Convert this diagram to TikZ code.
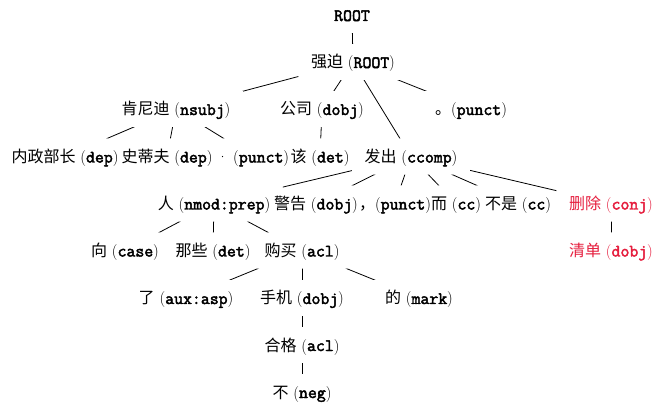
\documentclass[tikz,border=0pt]{standalone}
\usepackage{fontspec}
\newfontfamily\cjkfont{Noto Sans CJK SC}
\newfontfamily\tbfont{Latin Modern Mono}[FakeBold=2.5]
\definecolor{depred}{RGB}{230,30,62}
\newcommand\tb[1]{{\tbfont\fontsize{17.3}{19}\selectfont #1}}
\newcommand\cj[1]{{\cjkfont #1}}
\newcommand\depedge[2]{%
  \begin{scope}[even odd rule]
    \clip (-20,-20) rectangle (700,440)
      ([xshift=-12.5pt,yshift=-10pt]#1.south west) rectangle ([xshift=12.5pt,yshift=10pt]#1.north east)
      ([xshift=-12.5pt,yshift=-10pt]#2.south west) rectangle ([xshift=12.5pt,yshift=10pt]#2.north east);
    \draw[deplink] (#1) -- (#2);
  \end{scope}}
\tikzset{
  tok/.style={inner sep=0pt, text height=14pt, text depth=2pt, font=\fontsize{16}{19}\selectfont},
  redtok/.style={tok, text=depred},
  deplink/.style={line width=0.8pt, black}
}
\begin{document}
\begin{tikzpicture}[x=1pt,y=-1pt]
\useasboundingbox[fill=white] (0,0) rectangle (666,411);
% row 0
\node[tok] (root) at (352,15) {\tb{ROOT}};
% row 1
\node[tok] (qiangpo) at (353,62) {\cj{强迫} (\tb{ROOT})};
% row 2
\node[tok] (kennidi) at (176,109) {\cj{肯尼迪} (\tb{nsubj})};
\node[tok] (gongsi) at (322,109) {\cj{公司} (\tb{dobj})};
\node[tok] (juhao) at (471,109) {\cj{。}(\tb{punct})};
% row 3
\node[tok] (neizheng) at (65,156.5) {\cj{内政部长} (\tb{dep})};
\node[tok] (shidifu) at (167,156.5) {\cj{史蒂夫} (\tb{dep})};
\node[tok] (dot) at (253,156.5) {· (\tb{punct})};
\node[tok] (gai) at (320,156.5) {\cj{该} (\tb{det})};
\node[tok] (fachu) at (411,156.5) {\cj{发出} (\tb{ccomp})};
% row 4
\node[tok] (ren) at (214,203.5) {\cj{人} (\tb{nmod:prep})};
\node[tok] (jinggao) at (316,203.5) {\cj{警告} (\tb{dobj})};
\node[tok] (douhao) at (395,203.5) {\cj{，}(\tb{punct})};
\node[tok] (er) at (456,203.5) {\cj{而} (\tb{cc})};
\node[tok] (bushi) at (518,203.5) {\cj{不是} (\tb{cc})};
\node[redtok] (shanchu) at (611,203.5) {\cj{删除} (\tb{conj})};
% row 5
\node[tok] (xiang) at (125,250.5) {\cj{向} (\tb{case})};
\node[tok] (naxie) at (213,250.5) {\cj{那些} (\tb{det})};
\node[tok] (goumai) at (302,250.5) {\cj{购买} (\tb{acl})};
\node[redtok] (qingdan) at (611,250.5) {\cj{清单} (\tb{dobj})};
% row 6
\node[tok] (le) at (186,298) {\cj{了} (\tb{aux:asp})};
\node[tok] (shouji) at (302,298) {\cj{手机} (\tb{dobj})};
\node[tok] (de) at (419,298) {\cj{的} (\tb{mark})};
% row 7, 8
\node[tok] (hege) at (302,345) {\cj{合格} (\tb{acl})};
\node[tok] (bu) at (302,392) {\cj{不} (\tb{neg})};
% edges
\depedge{root}{qiangpo}
\depedge{qiangpo}{kennidi}
\depedge{qiangpo}{gongsi}
\depedge{qiangpo}{fachu}
\depedge{qiangpo}{juhao}
\depedge{kennidi}{neizheng}
\depedge{kennidi}{shidifu}
\depedge{kennidi}{dot}
\depedge{gongsi}{gai}
\depedge{fachu}{ren}
\depedge{fachu}{jinggao}
\depedge{fachu}{douhao}
\depedge{fachu}{er}
\depedge{fachu}{bushi}
\depedge{fachu}{shanchu}
\depedge{ren}{xiang}
\depedge{ren}{naxie}
\depedge{ren}{goumai}
\depedge{shanchu}{qingdan}
\depedge{goumai}{le}
\depedge{goumai}{shouji}
\depedge{goumai}{de}
\depedge{shouji}{hege}
\depedge{hege}{bu}
\end{tikzpicture}
\end{document}
